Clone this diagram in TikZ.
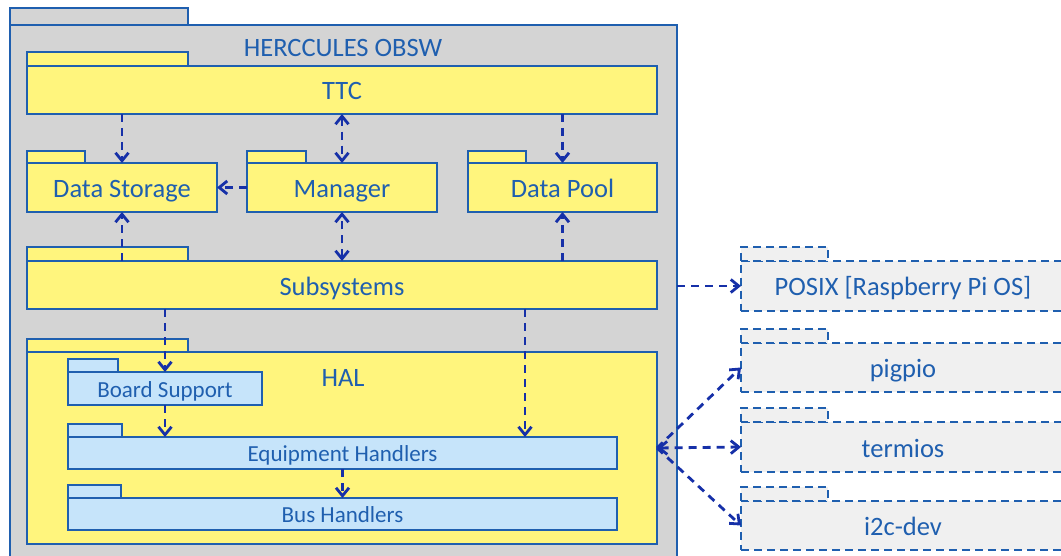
\documentclass[tikz,border=0pt]{standalone}
\usepackage{fontspec}
\setmainfont{Carlito}
\usetikzlibrary{arrows.meta}

\definecolor{pkgline}{RGB}{31,95,175}
\definecolor{depline}{RGB}{22,48,168}
\definecolor{pkgyellow}{RGB}{255,245,125}
\definecolor{pkgblue}{RGB}{198,228,250}
\definecolor{pkggray}{RGB}{212,212,212}
\definecolor{extgray}{RGB}{240,240,240}

\begin{document}
\begin{tikzpicture}[x=1pt, y=-1pt, >={Straight Barb[length=8pt, width=13pt, line width=2.8pt]},
  every node/.style={font=\fontsize{26.5}{28}\selectfont, text=pkgline, text height=20pt, text depth=0pt},
  pkg/.style={draw=pkgline, line width=1.6pt, inner sep=0pt, outer sep=0pt, anchor=north west},
  pkgsmall/.style={pkg, fill=pkgblue, font=\fontsize{23}{25}\selectfont, text height=17pt},
  pkgext/.style={pkg, fill=extgray, dash pattern=on 8pt off 5pt},
  dep/.style={draw=depline, line width=2.8pt, dash pattern=on 8pt off 6pt}]
  \useasboundingbox (0,0) rectangle (1061,556);
  \clip (0,0) rectangle (1061,556);

  % OBSW container
  \node[pkg, fill=pkggray, minimum width=667pt, minimum height=545pt] (obsw) at (10,25) {};
  \draw[pkg, fill=pkggray] (obsw.north west) rectangle ++(178,-17);
  \node (obswtitle) at (343,47) {HERCCULES OBSW};

  % top level packages
  \node[pkg, fill=pkgyellow, minimum width=630pt, minimum height=48pt] (ttc) at (27,66) {TTC};
  \node[pkg, fill=pkgyellow, minimum width=190pt, minimum height=49pt] (dstore) at (27,163) {Data Storage};
  \node[pkg, fill=pkgyellow, minimum width=190pt, minimum height=49pt] (manager) at (247,163) {Manager};
  \node[pkg, fill=pkgyellow, minimum width=189pt, minimum height=49pt] (dpool) at (468,163) {Data Pool};
  \node[pkg, fill=pkgyellow, minimum width=630pt, minimum height=48pt] (subsys) at (27,261) {Subsystems};
  \draw[pkg, fill=pkgyellow] (ttc.north west) rectangle ++(161,-14);
  \draw[pkg, fill=pkgyellow] (dstore.north west) rectangle ++(58,-12);
  \draw[pkg, fill=pkgyellow] (manager.north west) rectangle ++(59,-12);
  \draw[pkg, fill=pkgyellow] (dpool.north west) rectangle ++(58,-12);
  \draw[pkg, fill=pkgyellow] (subsys.north west) rectangle ++(161,-14);

  % HAL and its parts
  \node[pkg, fill=pkgyellow, minimum width=630pt, minimum height=192pt] (hal) at (27,352) {};
  \draw[pkg, fill=pkgyellow] (hal.north west) rectangle ++(161,-13);
  \node (haltitle) at (343,376) {HAL};
  \node[pkgsmall, minimum width=194pt, minimum height=33pt] (bsup) at (68,372) {Board Support};
  \node[pkgsmall, minimum width=549pt, minimum height=32pt] (equip) at (68,437) {Equipment Handlers};
  \node[pkgsmall, minimum width=549pt, minimum height=32pt] (bus) at (68,498) {Bus Handlers};
  \draw[pkgsmall] (bsup.north west) rectangle ++(50,-13);
  \draw[pkgsmall] (equip.north west) rectangle ++(54,-13);
  \draw[pkgsmall] (bus.north west) rectangle ++(53,-13);

  % external libraries
  \node[pkgext, minimum width=324pt, minimum height=50pt] (posix) at (741,261) {POSIX [Raspberry Pi OS]};
  \node[pkgext, minimum width=324pt, minimum height=49pt] (pigpio) at (741,343) {pigpio};
  \node[pkgext, minimum width=324pt, minimum height=50pt] (termios) at (741,422) {termios};
  \node[pkgext, minimum width=324pt, minimum height=49pt] (i2cdev) at (741,501) {i2c-dev};
  \draw[pkgext] (posix.north west) rectangle ++(87,-14);
  \draw[pkgext] (pigpio.north west) rectangle ++(87,-14);
  \draw[pkgext] (termios.north west) rectangle ++(87,-14);
  \draw[pkgext] (i2cdev.north west) rectangle ++(87,-14);

  % dependencies
  \coordinate (eqin) at (525,437);
  \draw[dep, ->] (ttc.south -| dstore) -- (dstore.north);
  \draw[dep, <->] (ttc.south -| manager) -- (manager.north);
  \draw[dep, ->] (ttc.south -| dpool) -- (dpool.north);
  \draw[dep, ->] (manager) -- (dstore);
  \draw[dep, ->] (subsys.north -| dstore) -- (dstore.south);
  \draw[dep, <->] (subsys.north -| manager) -- (manager.south);
  \draw[dep, ->] (subsys.north -| dpool) -- (dpool.south);
  \draw[dep, ->] (subsys.south -| bsup) -- (bsup.north);
  \draw[dep, ->] (bsup.south) -- (bsup.south |- equip.north);
  \draw[dep, ->] (subsys.south -| eqin) -- (eqin);
  \draw[dep, ->] (equip.south) -- (bus.north);
  \draw[dep, ->] (posix.west -| obsw.east) -- (posix.west);
  \draw[dep, ->] (hal.east) -- (pigpio.west);
  \draw[dep, <->] (hal.east) -- (termios.west);
  \draw[dep, ->] (hal.east) -- (i2cdev.west);
\end{tikzpicture}
\end{document}
